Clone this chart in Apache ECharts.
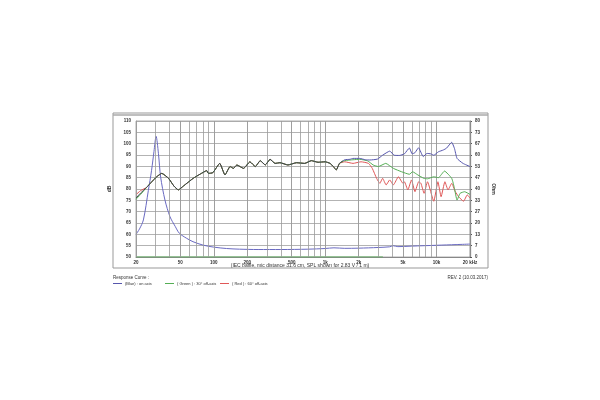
<!DOCTYPE html>
<html><head><meta charset="utf-8">
<script src="https://cdn.jsdelivr.net/npm/echarts@6/dist/echarts.min.js"></script>
<style>html,body{margin:0;padding:0;background:#fff}#c{width:600px;height:400px}</style>
</head><body><div id="c"></div>
<script>
// ---- data ----
const freqTickValues = [20, 50, 100, 200, 500, 1000, 2000, 5000, 10000, 20000];
const freqTickLabels = ['20', '50', '100', '200', '500', '1k', '2k', '5k', '10k', '20 kHz'];
const gridFreqs = [30,40,50,60,70,80,90,100,200,300,400,500,600,700,800,900,1000,2000,3000,4000,5000,6000,7000,8000,9000,10000];
// shared low/mid-frequency SPL (dB), [Hz, dB]
const commonSPL = [[24.9,80.7],[27.5,83],[30.7,85.4],[34.1,86.9],[39.2,84.7],[43.8,81.3],[48,79.6],[53.3,81.3],[65.2,84.7],[75.6,86.6],[86.4,88.1],[89.5,86.9],[98,87.2],[113,91.3],[126,86.2],[140,89.9],[150,89.1],[161,90.6],[185,89.1],[211,92],[236,89.9],[261,92.5],[290,90.6],[320,93.1],[355,91.3],[393,91.6],[463,90.6],[553,91.6],[655,91.3],[752,92.5],[864,91.8],[1000,92],[1107,91.3],[1185,89.9],[1257,88.4],[1345,91.3]];
const onAxisStart = [[20,76],[22,78.2]];
const onAxisHigh = [[1500,92.9],[1670,93.1],[1780,93.5],[2040,93.5],[2300,92.9],[2520,92.8],[2950,93.2],[3280,94.9],[3800,96.7],[4180,94.9],[4640,94.8],[5150,95.5],[5710,98.1],[6050,95.5],[6400,96],[6900,98.2],[7600,94.3],[8220,95.7],[8900,95.5],[9460,94.9],[10400,96.4],[11500,97.2],[12300,98],[13700,100.6],[14500,97.9],[15300,93.5],[17300,91.3],[20000,89.9]];
const offAxis30Start = [[20,75.5],[22,77.6]];
const offAxis30High = [[1500,92.5],[1780,92.9],[2040,93.1],[2410,92.4],[2700,90.6],[3000,89.9],[3500,91.3],[4100,89.1],[4860,87.6],[5710,86.5],[6100,87.6],[6800,86.2],[7700,84.7],[8300,84.5],[9460,85.4],[10400,85],[11800,87.9],[13700,84.7],[14500,80.3],[15300,75.1],[16300,78.1],[17900,78.8],[20000,77.6]];
const offAxis60Start = [[20,77.5],[22,79.3]];
const offAxis60High = [[1500,92],[1780,91.3],[2100,92],[2450,91.3],[2650,89.1],[2900,84.7],[3100,82.5],[3280,84.7],[3530,81.8],[3800,84],[4100,81.8],[4550,85.4],[5000,82.5],[5150,83.2],[5530,79.6],[5960,84],[6410,78.8],[6920,83.2],[7250,82.5],[7740,78.1],[8300,83.2],[9450,74.6],[10300,83.2],[11000,76.6],[11900,83.2],[12700,79.6],[13700,82.5],[14700,79],[15800,76.6],[17500,74.6],[18900,77.4],[20000,76]];
// impedance (Ohm), [Hz, Ohm]
const impedance = [[20,13.3],[21.5,16.5],[23.3,21.8],[25.8,39],[27.6,51],[29,62],[30.3,71],[31.8,61],[33.3,47],[36.4,33.5],[40.4,23.7],[45,18],[49,14],[57,11],[65,9],[80,7],[100,5.8],[130,5],[170,4.6],[250,4.4],[400,4.4],[700,4.6],[1000,5],[1200,5.4],[1500,5.1],[2000,5.2],[3000,5.6],[3800,6],[4100,6.6],[4500,6.1],[6000,6.4],[10000,6.9],[15000,7.3],[20000,7.6]];
const greenBaseline = [[20,0],[3300,0]];
const ohmTicks = ['0','7','13','20','27','33','40','47','53','60','67','73','80'];

const onAxis = onAxisStart.concat(commonSPL, onAxisHigh);
const offAxis30 = offAxis30Start.concat(commonSPL, offAxis30High);
const offAxis60 = offAxis60Start.concat(commonSPL, offAxis60High);

const BLUE = '#5656ad', GREEN = '#55ae55', RED = '#e05858', IMP = '#6a6ac2', DARK = '#3d3d48';
const txt = '#333';
const F = 'Liberation Sans, Arial, sans-serif';

// where overlapping curves appear dark (style only): fraction of plot width
const darkSplit = 0.62;
const blueStroke = {type: 'linear', x: 136, y: 0, x2: 470, y2: 0, global: true,
  colorStops: [{offset: 0, color: DARK}, {offset: darkSplit, color: DARK}, {offset: darkSplit, color: BLUE}, {offset: 1, color: BLUE}]};

const markLines = gridFreqs.map(f => ({xAxis: f, label: {show: false}}))
  .concat(freqTickValues.map((f, i) => ({xAxis: f, label: {show: true, formatter: freqTickLabels[i]}})));

const chart = echarts.init(document.getElementById('c'), null, {renderer: 'canvas'});
chart.setOption({
  animation: false,
  backgroundColor: '#fff',
  grid: {left: 136, right: 130, top: 121, bottom: 143, show: true, borderColor: '#999', borderWidth: 0.8},
  xAxis: {type: 'log', logBase: 10, min: 20, max: 20000,
    axisLabel: {show: false}, axisTick: {show: false}, splitLine: {show: false}, minorSplitLine: {show: false},
    axisLine: {show: true, lineStyle: {color: '#888', width: 1}}},
  yAxis: [
    {type: 'value', min: 50, max: 110, interval: 5, position: 'left',
      name: 'dB', nameLocation: 'middle', nameGap: 13, nameRotate: 90,
      nameTextStyle: {fontSize: 5, color: txt, fontFamily: F, fontWeight: 'bold'},
      axisLabel: {fontSize: 4.5, color: txt, margin: 5, fontFamily: F, fontWeight: 'bold'},
      axisLine: {show: true, lineStyle: {color: '#999', width: 0.8}}, axisTick: {show: false},
      splitLine: {show: true, lineStyle: {color: '#a0a0a0', width: 0.8}}},
    {type: 'value', min: 0, max: 80, interval: 80 / 12, position: 'right',
      name: 'Ohm', nameLocation: 'middle', nameGap: 14, nameRotate: -90,
      nameTextStyle: {fontSize: 5, color: txt, fontFamily: F, fontWeight: 'bold'},
      axisLabel: {fontSize: 4.5, color: txt, margin: 5, fontFamily: F, fontWeight: 'bold',
        formatter: v => ohmTicks[Math.round(v / (80 / 12))]},
      axisLine: {show: true, lineStyle: {color: '#555', width: 1.2}},
      axisTick: {show: true, length: 2, lineStyle: {color: '#555'}},
      splitLine: {show: false}}
  ],
  series: [
    {name: 'impedance', type: 'line', yAxisIndex: 1, data: impedance, showSymbol: false, smooth: 0.3,
      lineStyle: {color: IMP, width: 1}, z: 3,
      markLine: {silent: true, symbol: 'none', animation: false,
        lineStyle: {color: '#9a9a9a', width: 0.8, type: 'solid'},
        label: {position: 'start', distance: 3, fontSize: 4.5, color: txt, fontFamily: F, fontWeight: 'bold'},
        data: markLines}},
    {name: 'baseline', type: 'line', yAxisIndex: 1, data: greenBaseline, showSymbol: false,
      lineStyle: {color: GREEN, width: 1.2}, z: 3},
    {name: '60', type: 'line', data: offAxis60, showSymbol: false, smooth: 0.15, lineStyle: {color: RED, width: 1}, z: 4},
    {name: '30', type: 'line', data: offAxis30, showSymbol: false, smooth: 0.15, lineStyle: {color: GREEN, width: 1}, z: 5},
    {name: '0', type: 'line', data: onAxis, showSymbol: false, smooth: 0.15, lineStyle: {color: blueStroke, width: 1}, z: 6}
  ],
  graphic: [
    {type: 'rect', shape: {x: 113, y: 113, width: 375, height: 155}, style: {fill: 'none', stroke: '#999', lineWidth: 1}, silent: true},
    {type: 'line', shape: {x1: 113, y1: 115, x2: 488, y2: 115}, style: {stroke: '#aaa', lineWidth: 1.5}, silent: true},
    {type: 'text', x: 300, y: 266, style: {text: '(IEC baffle, mic distance 31.6 cm, SPL shown for 2.83 V / 1 m)', fontSize: 5, fill: txt, fontFamily: F, align: 'center', verticalAlign: 'middle'}},
    {type: 'text', x: 113, y: 278, style: {text: 'Response Curve :', fontSize: 4.5, fill: txt, fontFamily: F, verticalAlign: 'middle'}},
    {type: 'text', x: 488, y: 278, style: {text: 'REV. 2 (10.03.2017)', fontSize: 4.5, fill: txt, fontFamily: F, align: 'right', verticalAlign: 'middle'}},
    {type: 'line', shape: {x1: 113, y1: 283.5, x2: 122, y2: 283.5}, style: {stroke: BLUE, lineWidth: 1}},
    {type: 'text', x: 125, y: 283.5, style: {text: '(Blue) : on axis', fontSize: 4, fill: txt, fontFamily: F, verticalAlign: 'middle'}},
    {type: 'line', shape: {x1: 165, y1: 283.5, x2: 174, y2: 283.5}, style: {stroke: GREEN, lineWidth: 1}},
    {type: 'text', x: 177, y: 283.5, style: {text: '( Green ) : 30° off-axis', fontSize: 4, fill: txt, fontFamily: F, verticalAlign: 'middle'}},
    {type: 'line', shape: {x1: 220, y1: 283.5, x2: 229, y2: 283.5}, style: {stroke: RED, lineWidth: 1}},
    {type: 'text', x: 232, y: 283.5, style: {text: '( Red ) : 60° off-axis', fontSize: 4, fill: txt, fontFamily: F, verticalAlign: 'middle'}}
  ]
});
</script></body></html>
